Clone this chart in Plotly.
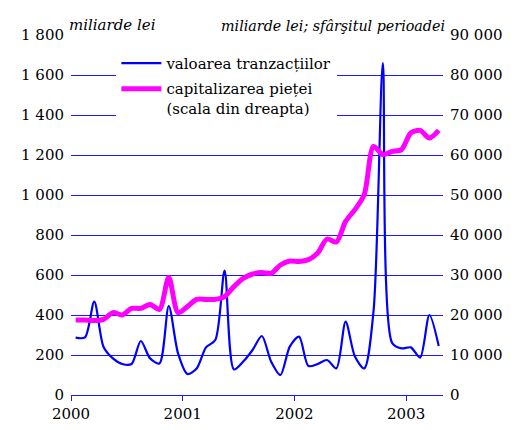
import plotly.graph_objects as go

months = [2000 + (i + 0.5) / 12 for i in range(40)]

tranzactii = [287, 288, 467, 240, 183, 155, 155, 270, 183, 158,
              445, 208, 105, 133, 238, 275, 622, 128, 167, 225,
              295, 167, 100, 242, 292, 145, 155, 175, 133, 367,
              192, 133, 420, 1660, 260, 233, 238, 187, 400, 245]

capitalizare_left = [375, 375, 372, 378, 412, 400, 433, 433, 453, 428,
                     588, 412, 442, 478, 478, 478, 492, 542, 583, 605,
                     612, 608, 650, 670, 668, 677, 710, 780, 765, 868,
                     927, 1002, 1243, 1202, 1218, 1227, 1310, 1323, 1285, 1323]
capitalizare = [v * 50 for v in capitalizare_left]

x_ticks = [2000, 2001, 2002, 2003]
left_vals = [0, 200, 400, 600, 800, 1000, 1200, 1400, 1600, 1800]
left_text = ["0", "200", "400", "600", "800", "1 000", "1 200", "1 400", "1 600", "1 800"]
right_vals = [0, 10000, 20000, 30000, 40000, 50000, 60000, 70000, 80000, 90000]
right_text = ["0", "10 000", "20 000", "30 000", "40 000", "50 000", "60 000", "70 000", "80 000", "90 000"]

FONT = "DejaVu Serif"
FS = 15
GRID = "#1a1aff"

fig = go.Figure()
fig.add_trace(go.Scatter(x=months, y=tranzactii, mode="lines", legendgroup="a",
                         line=dict(color="#0000ff", width=2.2, shape="spline", smoothing=0.8),
                         name="valoarea tranzacțiilor"))
fig.add_trace(go.Scatter(x=months, y=capitalizare, mode="lines", yaxis="y2", legendgroup="b",
                         line=dict(color="#ff00ff", width=5, shape="spline", smoothing=0.8),
                         name="capitalizarea pieței<br>(scala din dreapta)"))

fig.update_layout(
    width=504, height=422,
    margin=dict(l=63, r=69, t=27, b=35, autoexpand=False),
    paper_bgcolor="white", plot_bgcolor="white",
    font=dict(family=FONT, size=FS, color="black"),
    showlegend=True,
    legend=dict(x=0.122, y=0.967, xanchor="left", yanchor="top",
                bgcolor="white", font=dict(family=FONT, size=FS),
                valign="top", tracegroupgap=3, itemwidth=40,
                borderwidth=0),
    xaxis=dict(range=[2000, 2003.33], tickvals=x_ticks, ticktext=[str(v) for v in x_ticks],
               showgrid=False, showline=True, linecolor=GRID, linewidth=1,
               ticks="outside", ticklen=5, tickcolor=GRID, zeroline=False,
               automargin=False),
    yaxis=dict(range=[0, 1800], tickvals=left_vals, ticktext=left_text,
               showgrid=True, gridcolor=GRID, gridwidth=1, zeroline=False,
               ticks="", showline=False, automargin=False, ticklabelstandoff=6),
    yaxis2=dict(range=[0, 90000], tickvals=right_vals, ticktext=right_text,
                overlaying="y", side="right", showgrid=False, zeroline=False,
                ticks="", showline=False, automargin=False, ticklabelstandoff=6),
    annotations=[
        dict(text="<i>miliarde lei</i>", x=-0.01, y=1, xref="paper", yref="paper",
             xanchor="left", yanchor="bottom", showarrow=False,
             font=dict(family=FONT, size=FS), yshift=-1),
        dict(text="<i>miliarde lei; sfârşitul perioadei</i>", x=1.01, y=1, xref="paper", yref="paper",
             xanchor="right", yanchor="bottom", showarrow=False,
             font=dict(family=FONT, size=14.3), yshift=-1),
    ],
)

fig.write_html("out.html")
